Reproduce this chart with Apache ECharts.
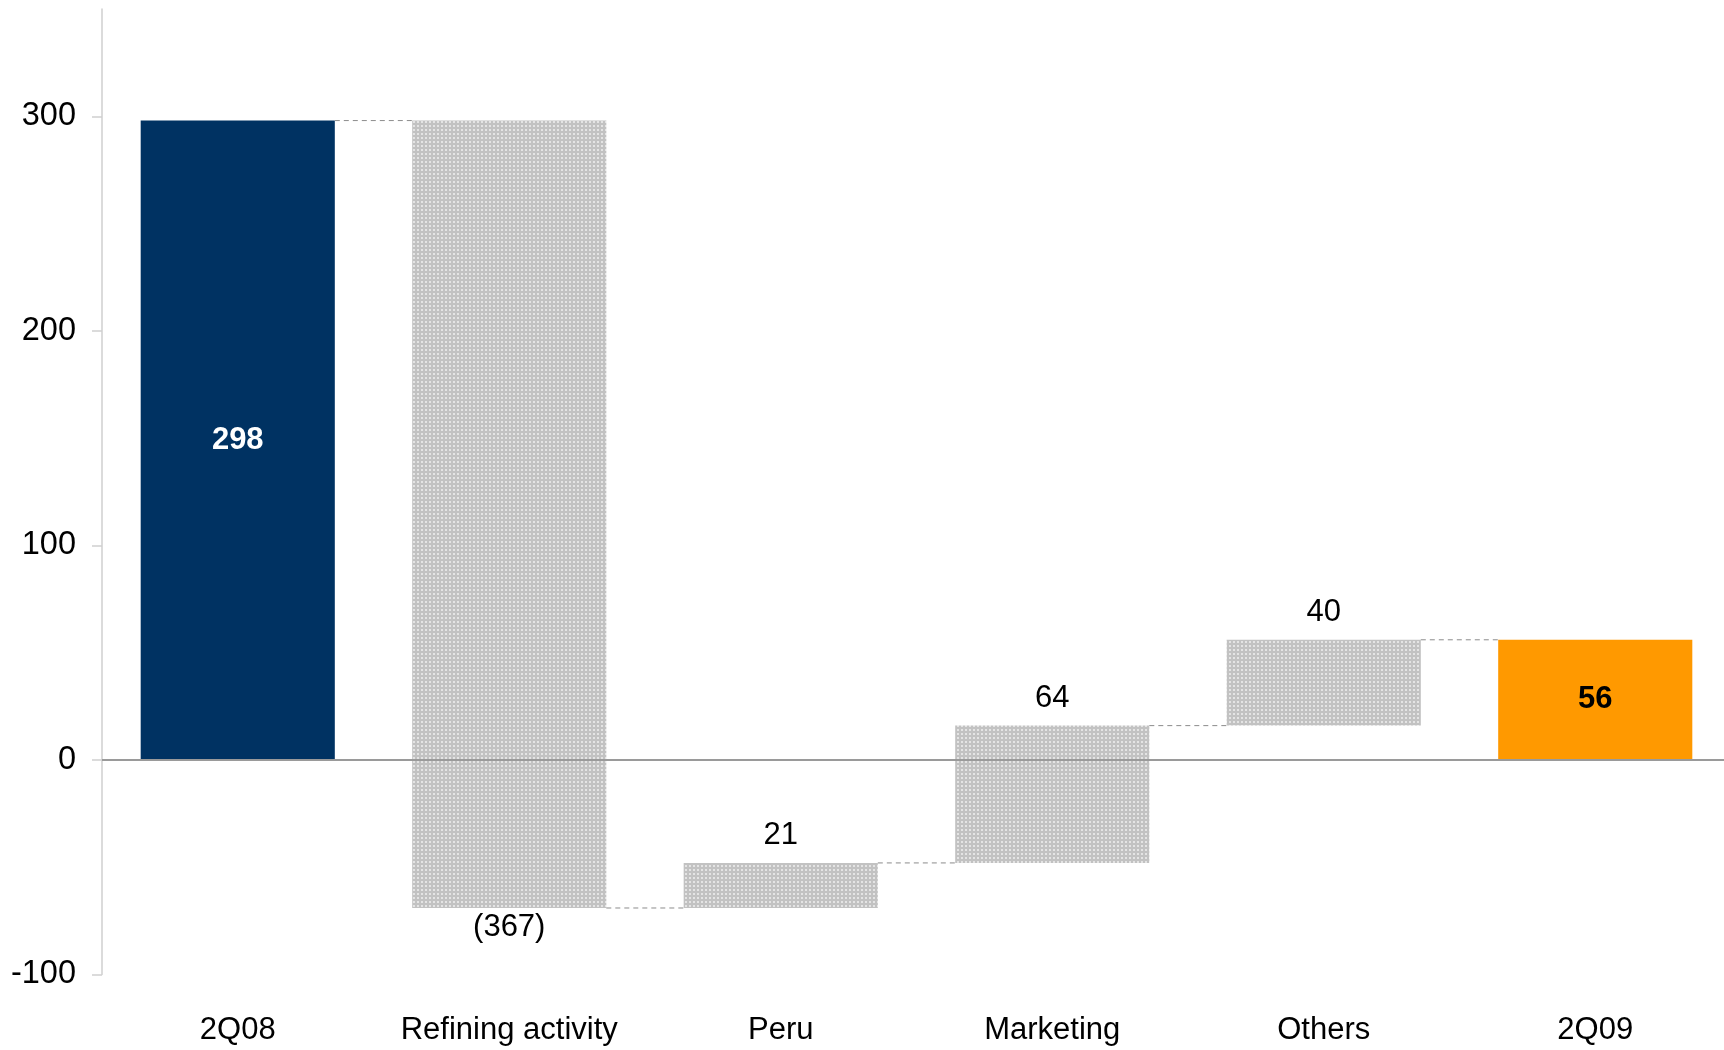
<!DOCTYPE html>
<html>
<head>
<meta charset="utf-8">
<script src="https://cdn.jsdelivr.net/npm/echarts@6/dist/echarts.min.js"></script>
<style>
html,body{margin:0;padding:0;background:#fff;}
#chart{width:1724px;height:1050px;}
</style>
</head>
<body>
<div id="chart"></div>
<script>
// ---- data ----
var categories = ['2Q08', 'Refining activity', 'Peru', 'Marketing', 'Others', '2Q09'];
var changes = [298, -367, 21, 64, 40, 56];
var kinds = ['total', 'delta', 'delta', 'delta', 'delta', 'total'];
var labelTexts = ['298', '(367)', '21', '64', '40', '56'];
var yTicks = [-100, 0, 100, 200, 300];

// ---- build waterfall ranges ----
var rows = [];
var running = 0;
for (var i = 0; i < changes.length; i++) {
  var low, high, end;
  if (kinds[i] === 'total') {
    low = 0; high = changes[i]; end = changes[i];
  } else {
    var start = running;
    end = running + changes[i];
    low = Math.min(start, end); high = Math.max(start, end);
  }
  running = end;
  rows.push([i, low, high, end, changes[i]]);
}

// texture pattern for the change bars
var pc = document.createElement('canvas');
pc.width = 4; pc.height = 4;
var pctx = pc.getContext('2d');
pctx.fillStyle = '#c2c2c2'; pctx.fillRect(0, 0, 4, 4);
pctx.fillStyle = '#e4e4e4'; pctx.fillRect(1, 1, 2, 2);
var pattern = { image: pc, repeat: 'repeat' };

var FONT = '"Liberation Sans", Arial, sans-serif';
var FS = 31;

function renderItem(params, api) {
  var idx = api.value(0);
  var low = api.value(1), high = api.value(2), end = api.value(3), chg = api.value(4);
  var band = api.size([1, 0])[0];
  var bw = band * 0.715;
  var pTop = api.coord([idx, high]);
  var pBot = api.coord([idx, low]);
  var x0 = pTop[0] - bw / 2;
  var kind = kinds[idx];
  var fill = kind === 'total' ? (idx === 0 ? '#003262' : '#FF9900') : pattern;
  var children = [{
    type: 'rect',
    shape: { x: x0, y: pTop[1], width: bw, height: pBot[1] - pTop[1] },
    style: { fill: fill }
  }];
  var txt = labelTexts[idx];
  if (kind === 'total') {
    children.push({
      type: 'text', z2: 20,
      style: {
        text: txt, x: pTop[0], y: (pTop[1] + pBot[1]) / 2,
        align: 'center', verticalAlign: 'middle',
        font: 'bold ' + FS + 'px ' + FONT,
        fill: idx === 0 ? '#ffffff' : '#000000'
      }
    });
  } else if (chg < 0) {
    children.push({
      type: 'text', z2: 20,
      style: {
        text: txt, x: pTop[0], y: pBot[1] + 4,
        align: 'center', verticalAlign: 'top',
        font: FS + 'px ' + FONT, fill: '#000'
      }
    });
  } else {
    children.push({
      type: 'text', z2: 20,
      style: {
        text: txt, x: pTop[0], y: pTop[1] - 12,
        align: 'center', verticalAlign: 'bottom',
        font: FS + 'px ' + FONT, fill: '#000'
      }
    });
  }
  if (idx < categories.length - 1) {
    var pe = api.coord([idx, end]);
    children.push({
      type: 'line', z2: 5,
      shape: { x1: x0 + bw, y1: pe[1], x2: x0 + band, y2: pe[1] },
      style: { stroke: '#8c8c8c', lineWidth: 1, lineDash: [5, 4] }
    });
  }
  return { type: 'group', children: children };
}

var chart = echarts.init(document.getElementById('chart'), null, { renderer: 'canvas' });
chart.setOption({
  animation: false,
  backgroundColor: '#ffffff',
  grid: { left: 102, width: 1629, top: 9, bottom: 75.5, containLabel: false, outerBoundsMode: 'none' },
  xAxis: {
    type: 'category',
    data: categories,
    axisLine: { show: false },
    axisTick: { show: false },
    axisLabel: { margin: 40, fontSize: FS, color: '#000', fontFamily: FONT, interval: 0 }
  },
  yAxis: {
    type: 'value',
    min: -100, max: 350, interval: 100,
    splitLine: { show: false },
    axisLine: { show: true, lineStyle: { color: '#cfcfcf', width: 1.5 } },
    axisTick: { show: true, length: 10, lineStyle: { color: '#cfcfcf', width: 1.5 }, customValues: yTicks },
    axisLabel: { margin: 26, fontSize: 32.5, color: '#000', fontFamily: FONT, customValues: yTicks }
  },
  series: [{
    type: 'custom',
    renderItem: renderItem,
    encode: { x: 0, y: [1, 2] },
    data: rows,
    z: 2,
    markLine: {
      silent: true, symbol: ['none', 'none'], z: 10,
      label: { show: false },
      lineStyle: { color: '#9a9a9a', width: 2, type: 'solid' },
      data: [{ yAxis: 0 }]
    }
  }]
});
</script>
</body>
</html>
